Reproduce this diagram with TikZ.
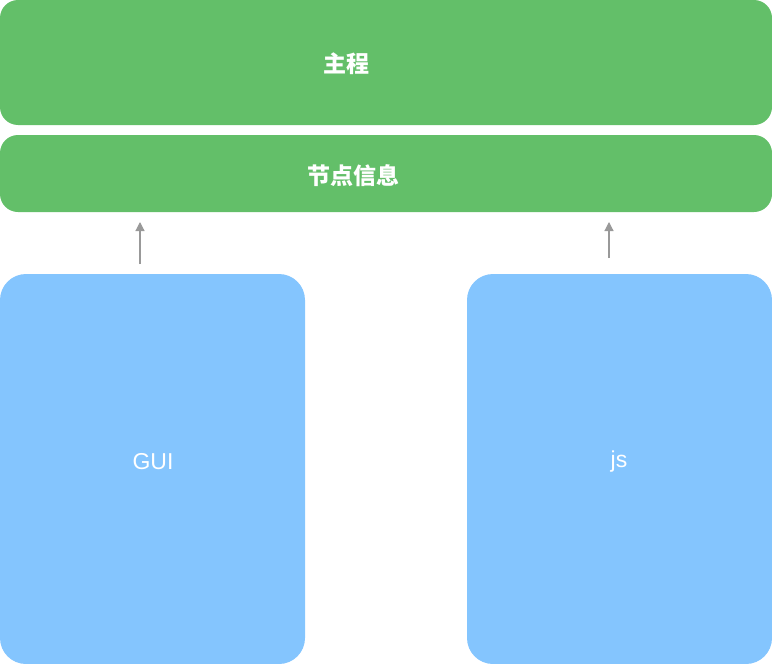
\documentclass[tikz,border=0pt]{standalone}
\usepackage{fontspec}
\setmainfont{Liberation Sans}
\newfontfamily\cjk{Noto Sans CJK SC}
\usetikzlibrary{arrows.meta}
\definecolor{boxgreen}{HTML}{63BF69}
\definecolor{boxblue}{HTML}{84C5FE}
\definecolor{arrgray}{HTML}{999999}
\tikzset{
  greenbox/.style={fill=boxgreen, draw=none, rounded corners=18pt},
  bluebox/.style={fill=boxblue, draw=none, rounded corners=26pt},
  lbl/.style={text=white, font=\cjk\bfseries\fontsize{23pt}{26pt}\selectfont},
  lbllat/.style={text=white, font=\fontsize{23pt}{26pt}\selectfont},
  conn/.style={draw=arrgray, line width=1.2pt, -{Triangle[length=9pt,width=9pt]}}
}
\begin{document}
\begin{tikzpicture}[x=1pt,y=-1pt]
\useasboundingbox (0,0) rectangle (772,664);
\fill[greenbox] (0,0) rectangle (772,125);
\fill[greenbox] (0,135) rectangle (772,212);
\fill[bluebox] (0,274) rectangle (305,664);
\fill[bluebox] (467,274) rectangle (772,664);
\node[lbl] (main) at (346,64) {主程};
\node[lbl] (info) at (353,176) {节点信息};
\node[lbllat] (gui) at (153,462) {GUI};
\node[lbllat] (js) at (619,462) {js};
\coordinate (a1s) at (140,264);
\coordinate (a1e) at (140,222);
\coordinate (a2s) at (609,258);
\coordinate (a2e) at (609,222);
\draw[conn] (a1s) -- (a1e);
\draw[conn] (a2s) -- (a2e);
\end{tikzpicture}
\end{document}
